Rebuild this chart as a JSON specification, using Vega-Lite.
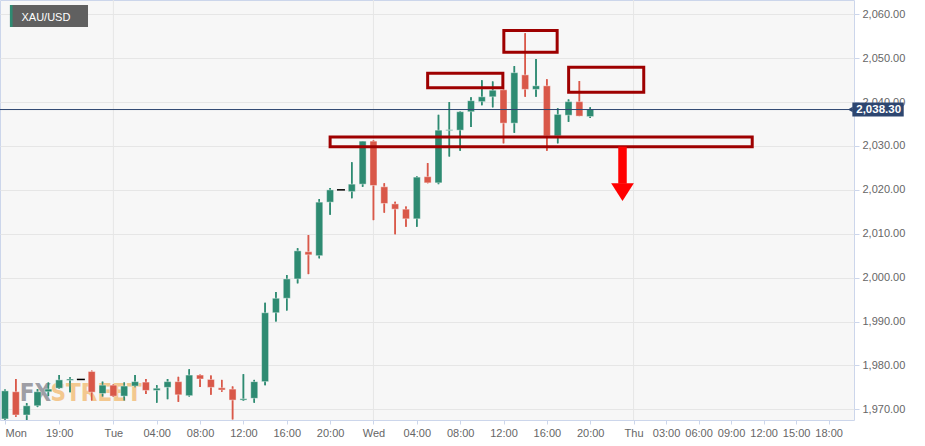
{
  "$schema": "https://vega.github.io/schema/vega-lite/v6.json",
  "width": 854,
  "height": 420,
  "padding": {"left": 0, "top": 0, "right": 71, "bottom": 26},
  "autosize": {"type": "none"},
  "background": "#ffffff",
  "config": {
    "font": "Liberation Sans",
    "view": {"fill": "#f7f7f7", "stroke": "#ccd6eb"}
  },
  "datasets": {
    "one": [{}],
    "days": [{"d": 0}, {"d": 24}, {"d": 48}],
    "candles": [
      {"t": -10, "open": 1967.8, "high": 1974.5, "low": 1967.5, "close": 1974.2},
      {"t": -9, "open": 1974.0, "high": 1976.9, "low": 1968.3, "close": 1968.7},
      {"t": -8, "open": 1968.7, "high": 1971.4, "low": 1967.4, "close": 1970.8},
      {"t": -7, "open": 1970.8, "high": 1974.6, "low": 1970.5, "close": 1974.0},
      {"t": -6, "open": 1974.0, "high": 1976.1, "low": 1973.0, "close": 1974.6},
      {"t": -5, "open": 1974.8, "high": 1977.8, "low": 1974.6, "close": 1976.7},
      {"t": -4, "open": 1976.6, "high": 1977.3, "low": 1973.9, "close": 1976.9},
      {"t": -3, "open": 1976.8, "high": 1976.8, "low": 1976.8, "close": 1976.8},
      {"t": -2, "open": 1978.6, "high": 1978.8, "low": 1972.0, "close": 1973.9},
      {"t": -1, "open": 1973.6, "high": 1976.3, "low": 1972.9, "close": 1975.5},
      {"t": 0, "open": 1975.5, "high": 1975.7, "low": 1972.8, "close": 1973.0},
      {"t": 1, "open": 1973.0, "high": 1976.1, "low": 1972.0, "close": 1975.3},
      {"t": 2, "open": 1975.3, "high": 1977.8, "low": 1975.0, "close": 1976.3},
      {"t": 3, "open": 1976.2, "high": 1976.9, "low": 1973.5, "close": 1974.3},
      {"t": 4, "open": 1974.3, "high": 1975.5, "low": 1971.5, "close": 1974.8},
      {"t": 5, "open": 1975.0, "high": 1976.9, "low": 1972.3, "close": 1976.3},
      {"t": 6, "open": 1976.3, "high": 1977.4, "low": 1971.7, "close": 1973.3},
      {"t": 7, "open": 1973.1, "high": 1979.1, "low": 1972.9, "close": 1977.8},
      {"t": 8, "open": 1977.8, "high": 1977.9, "low": 1975.1, "close": 1976.9},
      {"t": 9, "open": 1976.8, "high": 1977.7, "low": 1973.3, "close": 1975.0},
      {"t": 10, "open": 1974.9, "high": 1976.7, "low": 1974.0, "close": 1974.4},
      {"t": 11, "open": 1974.6, "high": 1975.2, "low": 1967.7, "close": 1972.1},
      {"t": 12, "open": 1972.1, "high": 1978.0, "low": 1971.9, "close": 1972.4},
      {"t": 13, "open": 1972.5, "high": 1976.7, "low": 1971.5, "close": 1976.3},
      {"t": 14, "open": 1976.3, "high": 1994.3, "low": 1975.5, "close": 1992.0},
      {"t": 15, "open": 1992.0, "high": 1996.7, "low": 1990.0, "close": 1995.3},
      {"t": 16, "open": 1995.3, "high": 2000.6, "low": 1992.5, "close": 1999.7},
      {"t": 17, "open": 1999.7, "high": 2006.7, "low": 1998.7, "close": 2006.1},
      {"t": 18, "open": 2005.9, "high": 2009.7, "low": 2000.8, "close": 2005.2},
      {"t": 19, "open": 2005.0, "high": 2017.9, "low": 2004.4, "close": 2017.2},
      {"t": 20, "open": 2017.2, "high": 2020.4, "low": 2014.3, "close": 2020.0},
      {"t": 21, "open": 2020.0, "high": 2020.0, "low": 2020.0, "close": 2020.0},
      {"t": 22, "open": 2019.6, "high": 2026.3, "low": 2018.1, "close": 2021.3},
      {"t": 23, "open": 2021.3, "high": 2031.1, "low": 2020.7, "close": 2031.1},
      {"t": 24, "open": 2031.1, "high": 2031.3, "low": 2013.1, "close": 2021.0},
      {"t": 25, "open": 2020.7, "high": 2021.5, "low": 2014.8, "close": 2016.9},
      {"t": 26, "open": 2016.8, "high": 2017.3, "low": 2009.9, "close": 2015.6},
      {"t": 27, "open": 2015.6, "high": 2016.2, "low": 2011.6, "close": 2013.4},
      {"t": 28, "open": 2013.4, "high": 2023.1, "low": 2011.6, "close": 2022.9},
      {"t": 29, "open": 2023.0, "high": 2026.1, "low": 2021.5, "close": 2021.6},
      {"t": 30, "open": 2021.6, "high": 2037.1, "low": 2021.3, "close": 2033.6},
      {"t": 31, "open": 2033.5, "high": 2040.0, "low": 2027.6, "close": 2033.7},
      {"t": 32, "open": 2033.6, "high": 2037.9, "low": 2028.9, "close": 2037.8},
      {"t": 33, "open": 2037.8, "high": 2041.1, "low": 2034.3, "close": 2040.3},
      {"t": 34, "open": 2040.1, "high": 2045.0, "low": 2039.3, "close": 2041.2},
      {"t": 35, "open": 2041.2, "high": 2044.7, "low": 2038.8, "close": 2042.7},
      {"t": 36, "open": 2042.8, "high": 2042.9, "low": 2030.6, "close": 2035.2},
      {"t": 37, "open": 2035.2, "high": 2048.2, "low": 2033.0, "close": 2046.7},
      {"t": 38, "open": 2046.2, "high": 2055.7, "low": 2041.2, "close": 2042.9},
      {"t": 39, "open": 2042.9, "high": 2049.8, "low": 2041.2, "close": 2043.7},
      {"t": 40, "open": 2043.7, "high": 2045.2, "low": 2028.9, "close": 2032.3},
      {"t": 41, "open": 2032.3, "high": 2038.6, "low": 2030.6, "close": 2037.2},
      {"t": 42, "open": 2037.0, "high": 2040.6, "low": 2035.5, "close": 2040.1},
      {"t": 43, "open": 2040.1, "high": 2044.8, "low": 2036.8, "close": 2036.8},
      {"t": 44, "open": 2036.7, "high": 2038.8, "low": 2036.4, "close": 2038.3}
    ],
    "boxes": [
      {"t1": 20.0, "t2": 58.95, "p1": 2032.05, "p2": 2029.8},
      {"t1": 29.0, "t2": 35.94, "p1": 2046.56, "p2": 2043.28},
      {"t1": 36.03, "t2": 40.95, "p1": 2056.31, "p2": 2051.37},
      {"t1": 42.01, "t2": 48.94, "p1": 2047.95, "p2": 2042.25}
    ]
  },
  "layer": [
    {
      "data": {"name": "days"},
      "mark": {"type": "rule", "color": "#e6e6e6", "strokeWidth": 1},
      "encoding": {
        "x": {
          "field": "d", "type": "quantitative", "title": null,
          "scale": {"domain": [-10, 67.88], "nice": false, "zero": false},
          "axis": {
            "title": null,
            "values": [-10, -5, 0, 4, 8, 12, 16, 20, 24, 28, 32, 36, 40, 44, 48, 51, 54, 57, 60, 63, 66],
            "labelExpr": "datum.value == -10 ? 'Mon' : (datum.value % 24 == 0 ? (datum.value == 0 ? 'Tue' : (datum.value == 24 ? 'Wed' : 'Thu')) : ((((datum.value % 24) + 24) % 24) < 10 ? '0' : '') + (((datum.value % 24) + 24) % 24) + ':00')",
            "labelFlush": false,
            "labelAlign": {"condition": {"test": "datum.value == -10", "value": "left"}, "value": "center"},
            "labelPadding": 3,
            "labelFont": "Liberation Sans",
            "labelFontSize": 11,
            "labelColor": "#666666",
            "tickColor": "#ccd6eb",
            "tickSize": 4,
            "domain": false,
            "grid": false
          }
        }
      }
    },
    {
      "data": {"name": "candles"},
      "mark": {"type": "rule", "clip": true, "strokeWidth": 1.5},
      "encoding": {
        "x": {"field": "t", "type": "quantitative", "title": null},
        "y": {
          "field": "low", "type": "quantitative", "title": null,
          "scale": {"domain": [1967.56, 2063.26], "nice": false, "zero": false},
          "axis": {
            "title": null,
            "orient": "right",
            "values": [1970, 1980, 1990, 2000, 2010, 2020, 2030, 2040, 2050, 2060],
            "format": ",.2f",
            "labelFont": "Liberation Sans",
            "labelFontSize": 11,
            "labelColor": "#666666",
            "tickColor": "#ccd6eb",
            "tickSize": 5,
            "labelPadding": 3,
            "domain": false,
            "grid": true,
            "gridColor": "#e6e6e6"
          }
        },
        "y2": {"field": "high"},
        "color": {"condition": {"test": "datum.close >= datum.open", "value": "#2e8b72"}, "value": "#d95849"}
      }
    },
    {
      "data": {"name": "one"},
      "mark": {"type": "text", "font": "DejaVu Sans Condensed", "fontWeight": "bold", "fontSize": 24, "align": "left", "baseline": "alphabetic", "color": "#8f8f97", "opacity": 0.85},
      "encoding": {
        "x": {"datum": -8.63, "type": "quantitative", "title": null},
        "y": {"datum": 1972.0, "type": "quantitative", "title": null},
        "text": {"value": "FX"}
      }
    },
    {
      "data": {"name": "one"},
      "mark": {"type": "text", "font": "DejaVu Sans Condensed", "fontWeight": "bold", "fontSize": 24, "align": "left", "baseline": "alphabetic", "color": "#f3c07e", "opacity": 0.85},
      "encoding": {
        "x": {"datum": -5.8, "type": "quantitative", "title": null},
        "y": {"datum": 1972.0, "type": "quantitative", "title": null},
        "text": {"value": "STREET"}
      }
    },
    {
      "data": {"name": "candles"},
      "mark": {"type": "rule", "clip": true, "strokeWidth": 1.5},
      "encoding": {
        "x": {"field": "t", "type": "quantitative", "title": null},
        "y": {"field": "low", "type": "quantitative", "title": null},
        "y2": {"field": "high"},
        "color": {"condition": {"test": "datum.close >= datum.open", "value": "#2e8b72"}, "value": "#d95849"}
      }
    },
    {
      "data": {"name": "candles"},
      "mark": {"type": "bar", "clip": true, "size": 7, "stroke": "#ffffff", "strokeOpacity": 0.4, "strokeWidth": 1},
      "encoding": {
        "x": {"field": "t", "type": "quantitative", "title": null},
        "y": {"field": "open", "type": "quantitative", "title": null},
        "y2": {"field": "close"},
        "color": {"condition": {"test": "datum.close >= datum.open", "value": "#2e8b72"}, "value": "#d95849"}
      }
    },
    {
      "data": {"name": "candles"},
      "transform": [{"filter": "datum.open == datum.close"}],
      "mark": {"type": "point", "shape": "M-1,0L1,0", "size": 64, "stroke": "#000000", "strokeWidth": 1.5, "filled": false, "opacity": 1},
      "encoding": {
        "x": {"field": "t", "type": "quantitative", "title": null},
        "y": {"field": "close", "type": "quantitative", "title": null}
      }
    },
    {
      "data": {"name": "one"},
      "mark": {"type": "rule", "color": "#2d4670", "strokeWidth": 1},
      "encoding": {
        "y": {"datum": 2038.3, "type": "quantitative", "title": null}
      }
    },
    {
      "data": {"name": "boxes"},
      "mark": {"type": "rect", "filled": false, "stroke": "#9e0000", "strokeWidth": 3, "clip": true},
      "encoding": {
        "x": {"field": "t1", "type": "quantitative", "title": null},
        "x2": {"field": "t2"},
        "y": {"field": "p1", "type": "quantitative", "title": null},
        "y2": {"field": "p2"}
      }
    },
    {
      "data": {"name": "one"},
      "mark": {"type": "rule", "color": "#ff0000", "strokeWidth": 8.5},
      "encoding": {
        "x": {"datum": 46.98, "type": "quantitative", "title": null},
        "y": {"datum": 2029.85, "type": "quantitative", "title": null},
        "y2": {"datum": 2021.4}
      }
    },
    {
      "data": {"name": "one"},
      "mark": {"type": "point", "shape": "M-1,-0.78L1,-0.78L0,0.78Z", "size": 515, "filled": true, "color": "#ff0000", "opacity": 1},
      "encoding": {
        "x": {"datum": 46.98, "type": "quantitative", "title": null},
        "y": {"datum": 2019.47, "type": "quantitative", "title": null}
      }
    },
    {
      "data": {"name": "one"},
      "mark": {"type": "rect", "color": "#606060"},
      "encoding": {
        "x": {"datum": -9.544, "type": "quantitative", "title": null},
        "x2": {"datum": -2.34},
        "y": {"datum": 2062.12, "type": "quantitative", "title": null},
        "y2": {"datum": 2057.11}
      }
    },
    {
      "data": {"name": "one"},
      "mark": {"type": "rect", "color": "#2e8b72"},
      "encoding": {
        "x": {"datum": -9.544, "type": "quantitative", "title": null},
        "x2": {"datum": -9.3},
        "y": {"datum": 2062.12, "type": "quantitative", "title": null},
        "y2": {"datum": 2057.11}
      }
    },
    {
      "data": {"name": "one"},
      "mark": {"type": "text", "fontSize": 11, "color": "#ffffff", "align": "left", "baseline": "alphabetic"},
      "encoding": {
        "x": {"datum": -8.48, "type": "quantitative", "title": null},
        "y": {"datum": 2058.55, "type": "quantitative", "title": null},
        "text": {"value": "XAU/USD"}
      }
    },
    {
      "data": {"name": "one"},
      "mark": {"type": "rect", "color": "#2d4670", "clip": false},
      "encoding": {
        "x": {"datum": 68.19, "type": "quantitative", "title": null},
        "x2": {"datum": 72.93},
        "y": {"datum": 2039.9, "type": "quantitative", "title": null},
        "y2": {"datum": 2036.7}
      }
    },
    {
      "data": {"name": "one"},
      "mark": {"type": "point", "shape": "triangle-left", "size": 30, "filled": true, "color": "#2d4670", "opacity": 1, "clip": false},
      "encoding": {
        "x": {"datum": 68.0, "type": "quantitative", "title": null},
        "y": {"datum": 2038.3, "type": "quantitative", "title": null}
      }
    },
    {
      "data": {"name": "one"},
      "mark": {"type": "text", "fontSize": 11.5, "fontWeight": "bold", "color": "#ffffff", "align": "left", "baseline": "middle", "clip": false},
      "encoding": {
        "x": {"datum": 68.55, "type": "quantitative", "title": null},
        "y": {"datum": 2038.3, "type": "quantitative", "title": null},
        "text": {"value": "2,038.30"}
      }
    }
  ]
}
